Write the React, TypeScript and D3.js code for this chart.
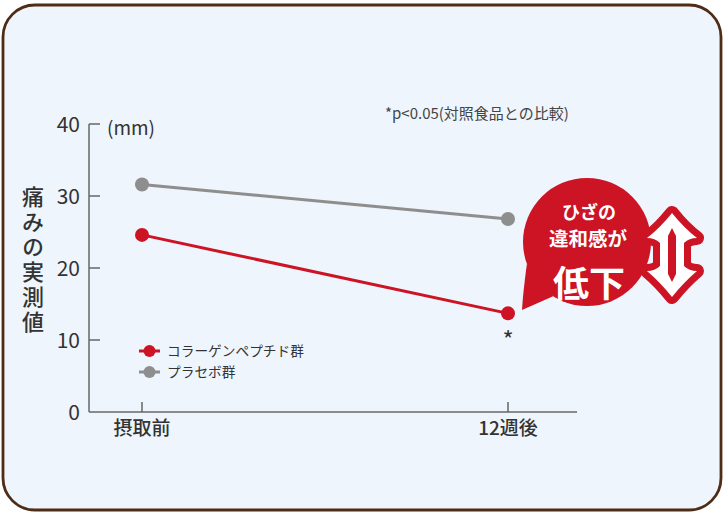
import React from "react";
import * as d3 from "d3";

const categories = ["摂取前", "12週後"];
const collagen = [24.6, 13.7];
const placebo = [31.6, 26.8];
const yTicks = [0, 10, 20, 30, 40];
const seriesNames = ["コラーゲンペプチド群", "プラセボ群"];
const yTitle = "痛みの実測値";
const unitLabel = "(mm)";
const note = "*p<0.05(対照食品との比較)";
const calloutLines = ["ひざの", "違和感が", "低下"];

const W = 724;
const H = 514;
const RED = "#cc1424";
const GRAY = "#8e8e8e";
const AXIS = "#666";
const TEXT = "#333";
const FONT = "'Noto Sans CJK JP', 'Noto Sans', sans-serif";

export default function App() {
  const x = d3.scalePoint<string>().domain(categories).range([142, 508]);
  const y = d3.scaleLinear().domain([0, 40]).range([412, 124]);
  const line = d3
    .line<number>()
    .x((_, i) => x(categories[i]) as number)
    .y((d) => y(d));

  const series = [
    { name: seriesNames[1], values: placebo, color: GRAY },
    { name: seriesNames[0], values: collagen, color: RED },
  ];

  const axisX = 89;
  const axisRight = 577;

  // callout geometry
  const cx = 587, cy = 242, r = 64;
  const a1 = (200 * Math.PI) / 180, a2 = (238 * Math.PI) / 180;
  const p1 = [cx + r * Math.cos(a1), cy - r * Math.sin(a1)];
  const p2 = [cx + r * Math.cos(a2), cy - r * Math.sin(a2)];
  const tip = [522, 310];
  const tailPath = `M${p1[0]},${p1[1]} Q${p1[0] - 4},${p1[1] + 30} ${tip[0]},${tip[1]} Q${p2[0] - 18},${p2[1] + 8} ${p2[0]},${p2[1]} Z`;

  // double arrow
  const ax = 672;
  const arrowD =
    `M${ax},213 Q${ax + 12},228 ${ax + 25},238 Q${ax + 17},238 ${ax + 12},243 ` +
    `L${ax + 12},266 Q${ax + 17},271 ${ax + 25},271 Q${ax + 12},282 ${ax},297 ` +
    `Q${ax - 12},282 ${ax - 25},271 Q${ax - 17},271 ${ax - 12},266 ` +
    `L${ax - 12},243 Q${ax - 17},238 ${ax - 25},238 Q${ax - 12},228 ${ax},213 Z`;
  const innerD = `M${ax},228 L${ax + 4},236 L${ax + 4},274 L${ax},282 L${ax - 4},274 L${ax - 4},236 Z`;

  return (
    <svg
      width={W}
      height={H}
      style={{ position: "absolute", left: 0, top: 0 }}
      fontFamily={FONT}
    >
      <rect
        x={3}
        y={5}
        width={718}
        height={505}
        rx={32}
        ry={32}
        fill="#eef5fc"
        stroke="#4e2c15"
        strokeWidth={2.8}
      />

      {/* axes */}
      <line x1={axisX} x2={axisX} y1={y(40)} y2={y(0)} stroke={AXIS} strokeWidth={1.5} />
      <line x1={axisX} x2={axisRight} y1={y(0)} y2={y(0)} stroke={AXIS} strokeWidth={1.5} />
      {yTicks.map((t) => (
        <g key={t}>
          {t > 0 && (
            <line x1={axisX} x2={axisX + 11} y1={y(t)} y2={y(t)} stroke={AXIS} strokeWidth={1.5} />
          )}
          <text
            x={80}
            y={y(t)}
            dy="0.36em"
            textAnchor="end"
            fontSize={21}
            fill={TEXT}
          >
            {t}
          </text>
        </g>
      ))}
      {categories.map((c) => (
        <g key={c}>
          <line
            x1={x(c)}
            x2={x(c)}
            y1={y(0)}
            y2={y(0) - 10}
            stroke={AXIS}
            strokeWidth={1.5}
          />
          <text
            x={x(c)}
            y={435}
            textAnchor="middle"
            fontSize={19}
            fontWeight={500}
            fill={TEXT}
          >
            {c}
          </text>
        </g>
      ))}

      <text x={107} y={128} dy="0.35em" fontSize={19} fill={TEXT}>
        {unitLabel}
      </text>

      <text
        x={33}
        y={186}
        fontSize={22}
        fontWeight={500}
        fill={TEXT}
        letterSpacing={3}
        style={{ writingMode: "vertical-rl" }}
      >
        {yTitle}
      </text>

      <text x={385} y={119} fontSize={15} fill="#444">
        {note}
      </text>

      {/* series */}
      {series.map((s) => (
        <g key={s.name}>
          <path d={line(s.values) as string} fill="none" stroke={s.color} strokeWidth={3} />
          {s.values.map((v, i) => (
            <circle key={i} cx={x(categories[i])} cy={y(v)} r={7} fill={s.color} />
          ))}
        </g>
      ))}

      <text
        x={x(categories[1])}
        y={y(collagen[1]) + 36}
        textAnchor="middle"
        fontSize={24}
        fill={TEXT}
      >
        *
      </text>

      {/* legend */}
      {[
        { name: seriesNames[0], color: RED },
        { name: seriesNames[1], color: GRAY },
      ].map((l, i) => (
        <g key={l.name} transform={`translate(0,${351 + i * 21})`}>
          <line x1={139} x2={160} y1={0} y2={0} stroke={l.color} strokeWidth={3} />
          <circle cx={149.5} cy={0} r={6} fill={l.color} />
          <text x={167} y={0} dy="0.36em" fontSize={13.7} fill={TEXT}>
            {l.name}
          </text>
        </g>
      ))}

      {/* callout */}
      <circle cx={cx} cy={cy} r={r} fill={RED} />
      <path d={tailPath} fill={RED} />
      <text x={589} y={213} dy="0.36em" textAnchor="middle" fontSize={18} fontWeight={700} fill="#fff">
        {calloutLines[0]}
      </text>
      <text x={588} y={239} dy="0.36em" textAnchor="middle" fontSize={19.5} fontWeight={700} fill="#fff">
        {calloutLines[1]}
      </text>
      <text x={589} y={284} dy="0.36em" textAnchor="middle" fontSize={36} fontWeight={700} fill="#fff">
        {calloutLines[2]}
      </text>

      {/* double arrow */}
      <path d={arrowD} fill="#fff" stroke={RED} strokeWidth={14} strokeLinejoin="round" />
      <path d={arrowD} fill="#fff" />
      <path d={innerD} fill={RED} />
    </svg>
  );
}
